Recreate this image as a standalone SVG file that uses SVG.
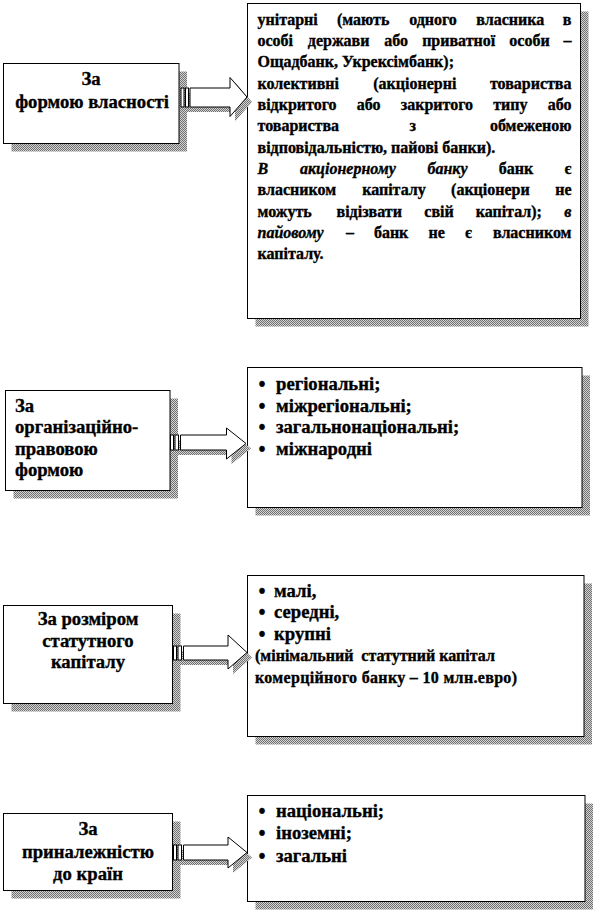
<svg xmlns="http://www.w3.org/2000/svg" width="596" height="912" viewBox="0 0 596 912">
<defs>
<pattern id="dither" width="2" height="2" patternUnits="userSpaceOnUse">
<rect width="2" height="2" fill="#d4d4d4"/>
<rect width="1" height="1" fill="#707070"/>
<rect x="1" y="1" width="1" height="1" fill="#707070"/>
</pattern>
</defs>
<style>
.box{fill:#fff;stroke:#000;stroke-width:1}
.sh{fill:url(#dither);stroke:none}
text{font-family:"Liberation Serif","Times New Roman",serif;font-weight:bold;fill:#000;stroke:#000;stroke-width:0.35}
.s16{font-size:16px}
.s14{font-size:18.67px}
.b{font-size:20px;text-anchor:middle}
.m{text-anchor:middle}
.e{text-anchor:end}
.i{font-style:italic}
.arr{fill:#fff;stroke:#000;stroke-width:1}
</style>
<rect width="596" height="912" fill="#fff"/>

<g id="n-own">
<rect class="sh" x="11.5" y="71.5" width="175.5" height="80"/>
<rect class="box" x="3.5" y="63.5" width="175.5" height="80"/>
<text class="s14 m" x="91" y="85">За</text>
<text class="s14 m" x="92" y="108">формою власності</text>
</g>

<g id="n-own-detail">
<rect class="sh" x="255.5" y="11.5" width="333" height="315"/>
<rect class="box" x="247.5" y="3.5" width="333" height="315"/>
<text class="s16" x="257.5" y="24.5">унітарні</text>
<text class="s16 m" x="363.2" y="24.5">(мають</text>
<text class="s16 m" x="433" y="24.5">одного</text>
<text class="s16 m" x="510.3" y="24.5">власника</text>
<text class="s16 e" x="571.5" y="24.5">в</text>

<text class="s16" x="257.5" y="45.8">особі</text>
<text class="s16 m" x="338.6" y="45.8">держави</text>
<text class="s16 m" x="396.2" y="45.8">або</text>
<text class="s16 m" x="458.7" y="45.8">приватної</text>
<text class="s16 m" x="529.5" y="45.8">особи</text>
<text class="s16 e" x="571.5" y="45.8">–</text>

<text class="s16" x="257.5" y="67.2">Ощадбанк, Укрексімбанк);</text>

<text class="s16" x="257.5" y="88.5">колективні</text>
<text class="s16 m" x="414.8" y="88.5">(акціонерні</text>
<text class="s16 e" x="571.5" y="88.5">товариства</text>

<text class="s16" x="257.5" y="109.8">відкритого</text>
<text class="s16 m" x="368.6" y="109.8">або</text>
<text class="s16 m" x="436.9" y="109.8">закритого</text>
<text class="s16 m" x="510.4" y="109.8">типу</text>
<text class="s16 e" x="571.5" y="109.8">або</text>

<text class="s16" x="257.5" y="131.2">товариства</text>
<text class="s16 m" x="412.8" y="131.2">з</text>
<text class="s16 e" x="571.5" y="131.2">обмеженою</text>

<text class="s16" x="257.5" y="152.5">відповідальністю, пайові банки).</text>

<text class="s16 i" x="257.5" y="173.8">В</text>
<text class="s16 m i" x="347.9" y="173.8">акціонерному</text>
<text class="s16 m i" x="447.5" y="173.8">банку</text>
<text class="s16 m" x="516" y="173.8">банк</text>
<text class="s16 e" x="571.5" y="173.8">є</text>

<text class="s16" x="257.5" y="195.2">власником</text>
<text class="s16 m" x="394" y="195.2">капіталу</text>
<text class="s16 m" x="490.4" y="195.2">(акціонери</text>
<text class="s16 e" x="571.5" y="195.2">не</text>

<text class="s16" x="257.5" y="216.5">можуть</text>
<text class="s16 m" x="369.2" y="216.5">відізвати</text>
<text class="s16 m" x="439" y="216.5">свій</text>
<text class="s16 m" x="508.8" y="216.5">капітал);</text>
<text class="s16 e i" x="571.5" y="216.5">в</text>

<text class="s16 i" x="257.5" y="237.8">пайовому</text>
<text class="s16 m" x="349.9" y="237.8">–</text>
<text class="s16 m" x="391.1" y="237.8">банк</text>
<text class="s16 m" x="436.6" y="237.8">не</text>
<text class="s16 m" x="468.4" y="237.8">є</text>
<text class="s16 e" x="571.5" y="237.8">власником</text>

<text class="s16" x="257.5" y="259.2">капіталу.</text>
</g>

<g id="n-org">
<rect class="sh" x="13.5" y="398.5" width="164.5" height="100"/>
<rect class="box" x="5.5" y="390.5" width="164.5" height="100"/>
<text class="s14" x="15" y="411.5">За</text>
<text class="s14" x="15" y="433">організаційно-</text>
<text class="s14" x="15" y="454.5">правовою</text>
<text class="s14" x="15" y="476">формою</text>
</g>

<g id="n-org-detail">
<rect class="sh" x="255.5" y="375.5" width="334.5" height="140"/>
<rect class="box" x="247.5" y="367.5" width="334.5" height="140"/>
<text class="b" x="262" y="391">•</text>
<text class="s14" x="276" y="390">регіональні;</text>
<text class="b" x="262" y="412.5">•</text>
<text class="s14" x="276" y="411.5">міжрегіональні;</text>
<text class="b" x="262" y="434">•</text>
<text class="s14" x="276" y="433">загальнонаціональні;</text>
<text class="b" x="262" y="455.5">•</text>
<text class="s14" x="276" y="454.5">міжнародні</text>
</g>

<g id="n-cap">
<rect class="sh" x="11.5" y="613.5" width="169" height="98"/>
<rect class="box" x="3.5" y="605.5" width="169" height="98"/>
<text class="s14 m" x="88" y="625">За розміром</text>
<text class="s14 m" x="88" y="646.5">статутного</text>
<text class="s14 m" x="88" y="668">капіталу</text>
</g>

<g id="n-cap-detail">
<rect class="sh" x="255.5" y="583.5" width="336.5" height="161"/>
<rect class="box" x="247.5" y="575.5" width="336.5" height="161"/>
<text class="b" x="262" y="597.5">•</text>
<text class="s14" x="274" y="596.5">малі,</text>
<text class="b" x="262" y="619">•</text>
<text class="s14" x="274" y="618">середні,</text>
<text class="b" x="262" y="640.5">•</text>
<text class="s14" x="274" y="639.5">крупні</text>
<text class="s16" x="255" y="661" xml:space="preserve">(мінімальний  статутний капітал</text>
<text class="s16" x="255" y="682.5" textLength="262" lengthAdjust="spacing">комерційного банку – 10 млн.евро)</text>
</g>

<g id="n-country">
<rect class="sh" x="11.5" y="821.5" width="169" height="77"/>
<rect class="box" x="3.5" y="813.5" width="169" height="77"/>
<text class="s14 m" x="88" y="835">За</text>
<text class="s14 m" x="88" y="858">приналежністю</text>
<text class="s14 m" x="88" y="880">до країн</text>
</g>

<g id="n-country-detail">
<rect class="sh" x="255.5" y="803.5" width="337.5" height="106"/>
<rect class="box" x="247.5" y="795.5" width="337.5" height="106"/>
<text class="b" x="262" y="817.5">•</text>
<text class="s14" x="276" y="816.5">національні;</text>
<text class="b" x="262" y="840">•</text>
<text class="s14" x="276" y="839">іноземні;</text>
<text class="b" x="262" y="862.5">•</text>
<text class="s14" x="276" y="861.5">загальні</text>
</g>

<g id="connectors">
<g id="arrow-own">
<polygon class="sh" points="186,93 235,93 235,82.5 252,102 235,121.5 235,112 186,112"/>
<rect class="arr" x="181" y="88" width="3" height="19"/>
<rect class="arr" x="185.5" y="88" width="3" height="19"/>
<polygon class="arr" points="190,88 230,88 230,77.5 247,97 230,116.5 230,107 190,107"/>
</g>
<g id="arrow-org">
<polygon class="sh" points="176,440 231.5,440 231.5,433 251,448.5 231.5,464 231.5,455 176,455"/>
<rect class="arr" x="170.5" y="435" width="3" height="15"/>
<rect class="arr" x="175" y="435" width="3.5" height="15"/>
<polygon class="arr" points="180.5,435 226.5,435 226.5,428 246,443.5 226.5,459 226.5,450 180.5,450"/>
</g>
<g id="arrow-cap">
<polygon class="sh" points="179,651 233,651 233,640 252,657.5 233,674 233,665 179,665"/>
<rect class="arr" x="173.5" y="646" width="3" height="14"/>
<rect class="arr" x="178" y="646" width="3.5" height="14"/>
<polygon class="arr" points="183.5,646 228,646 228,635 247,652.5 228,669 228,660 183.5,660"/>
</g>
<g id="arrow-country">
<polygon class="sh" points="179,850 233,850 233,842 252,857.5 233,873 233,865 179,865"/>
<rect class="arr" x="173.5" y="845" width="3" height="15"/>
<rect class="arr" x="178" y="845" width="3.5" height="15"/>
<polygon class="arr" points="183.5,845 228,845 228,837 247,852.5 228,868 228,860 183.5,860"/>
</g>
</g>
</svg>
